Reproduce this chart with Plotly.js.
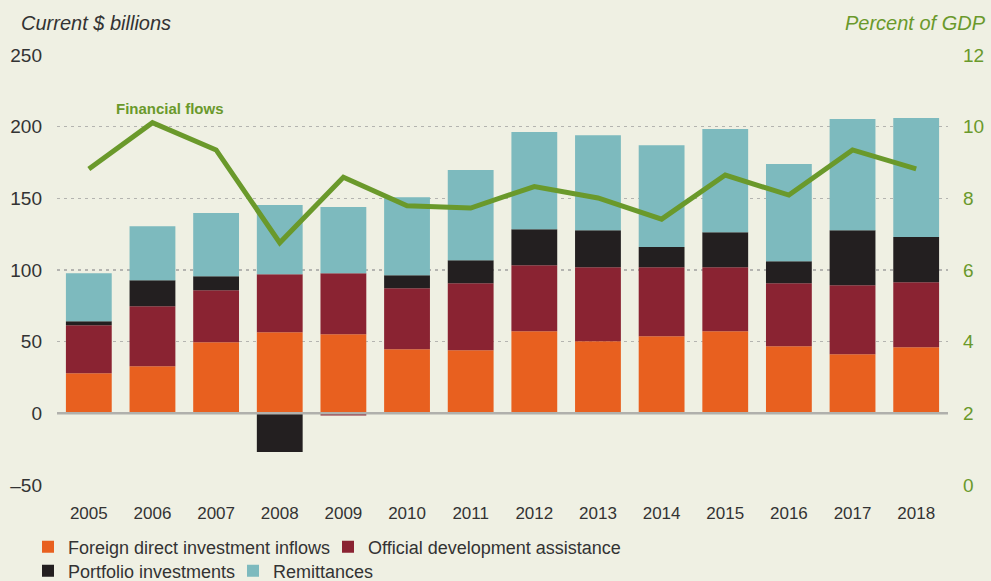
<!DOCTYPE html>
<html>
<head>
<meta charset="utf-8">
<script src="https://cdn.plot.ly/plotly-3.0.1.min.js"></script>
<style>html,body{margin:0;padding:0;background:#EFF0E3;}#chart{width:991px;height:581px;}</style>
</head>
<body>
<div id="chart"></div>
<script>
const years = ['2005','2006','2007','2008','2009','2010','2011','2012','2013','2014','2015','2016','2017','2018'];
const fdi = [28, 32.8, 49.6, 56.6, 55.2, 44.7, 44, 57.3, 50.3, 53.8, 57.3, 46.8, 41.2, 46.1];
const oda = [33.5, 41.9, 36.3, 40.5, 42.6, 42.6, 46.8, 46.1, 51.7, 48.2, 44.7, 44.0, 48.2, 45.4];
const portfolio = [2.7, 18.2, 9.8, -27, -1.5, 9.1, 16.0, 25.1, 25.8, 14.0, 24.4, 15.3, 38.4, 31.5];
const remittances = [33.6, 37.7, 44.0, 48.2, 46.1, 54.4, 62.9, 67.7, 66.2, 71.0, 71.9, 67.8, 77.5, 83.0];
const flowsPctGdp = [8.82, 10.11, 9.35, 6.76, 8.59, 7.79, 7.73, 8.33, 8.01, 7.42, 8.65, 8.09, 9.35, 8.82];
const leftTickVals = [-50, 0, 50, 100, 150, 200, 250];
const leftTickText = ['–50', '0', '50', '100', '150', '200', '250'];
const rightTickVals = [0, 2, 4, 6, 8, 10, 12];
const rightTickText = ['0', '2', '4', '6', '8', '10', '12'];
const names = ['Foreign direct investment inflows', 'Official development assistance', 'Portfolio investments', 'Remittances'];
const lineLabel = 'Financial flows';
const leftTitle = 'Current $ billions';
const rightTitle = 'Percent of GDP';

const C = {fdi:'#E8601F', oda:'#8A2332', pf:'#231F20', rem:'#7DBABE', green:'#6A992B', txt:'#333333', bg:'#EFF0E3', grid:'#B4B4B0'};
const portfolioColors = portfolio.map((v, i) => (v < 0 && v > -5) ? C.oda : C.pf);

const font = 'Liberation Sans, Arial, sans-serif';
const traces = [
  {type:'bar', x:years, y:fdi, name:names[0], marker:{color:C.fdi}, legend:'legend', hoverinfo:'skip'},
  {type:'bar', x:years, y:oda, name:names[1], marker:{color:C.oda}, legend:'legend2', hoverinfo:'skip'},
  {type:'bar', x:years, y:portfolio, name:names[2], marker:{color:portfolioColors}, legend:'legend3', hoverinfo:'skip'},
  {type:'bar', x:years, y:remittances, name:names[3], marker:{color:C.rem}, legend:'legend4', hoverinfo:'skip'},
  {type:'scatter', mode:'lines', x:years, y:flowsPctGdp, yaxis:'y2', line:{color:C.green, width:5}, showlegend:false, hoverinfo:'skip'}
];

function leg(x, y) {
  return {x:x, y:y, xref:'container', yref:'container', xanchor:'left', yanchor:'middle', orientation:'h',
    bgcolor:'rgba(0,0,0,0)', font:{family:font, size:18, color:C.txt}, borderwidth:0};
}
// paper coordinates from pixel positions (plot area: x 57..948, y 55..485)
const px = v => (v - 57) / 891;
const py = v => (485 - v) / 430;

const layout = {
  width:991, height:581,
  paper_bgcolor:C.bg, plot_bgcolor:C.bg,
  margin:{l:57, r:43, t:55, b:96},
  barmode:'relative', bargap:0.28,
  font:{family:font, color:C.txt},
  xaxis:{type:'category', range:[-0.5, 13.5], showgrid:false, zeroline:false, showline:false,
    ticks:'', tickfont:{family:font, size:17, color:C.txt}, ticklabelstandoff:16},
  yaxis:{range:[-50, 250], tickvals:leftTickVals, ticktext:leftTickText, showgrid:true, gridcolor:C.grid,
    griddash:'3px,4px', gridwidth:1.5, zeroline:false, showline:false, ticks:'',
    tickfont:{family:font, size:19, color:C.txt}, ticklabelstandoff:14},
  yaxis2:{overlaying:'y', side:'right', range:[0, 12], tickvals:rightTickVals, ticktext:rightTickText,
    showgrid:false, zeroline:false, showline:false, ticks:'',
    tickfont:{family:font, size:19, color:C.green}, ticklabelstandoff:14},
  shapes:[{type:'line', xref:'paper', yref:'y', x0:0, x1:1, y0:0, y1:0, line:{color:'#B0B0AC', width:2.5}, layer:'above'}],
  annotations:[
    {text:leftTitle, xref:'paper', yref:'paper', x:px(19), y:py(23), xanchor:'left', yanchor:'middle',
      showarrow:false, font:{family:font, size:20, color:C.txt, style:'italic'}},
    {text:rightTitle, xref:'paper', yref:'paper', x:px(988), y:py(23), xanchor:'right', yanchor:'middle',
      showarrow:false, font:{family:font, size:20, color:C.green, style:'italic'}},
    {text:'<b>'+lineLabel+'</b>', xref:'x', yref:'y2', x:1, y:10.52, xshift:18, xanchor:'center', yanchor:'middle',
      showarrow:false, font:{family:font, size:15, color:C.green}}
  ],
  legend: leg(28/991, 1-547/581),
  legend2: leg(328/991, 1-547/581),
  legend3: leg(28/991, 1-571/581),
  legend4: leg(233/991, 1-571/581),
  showlegend:true
};

Plotly.newPlot('chart', traces, layout, {displayModeBar:false, staticPlot:true});
</script>
</body>
</html>
